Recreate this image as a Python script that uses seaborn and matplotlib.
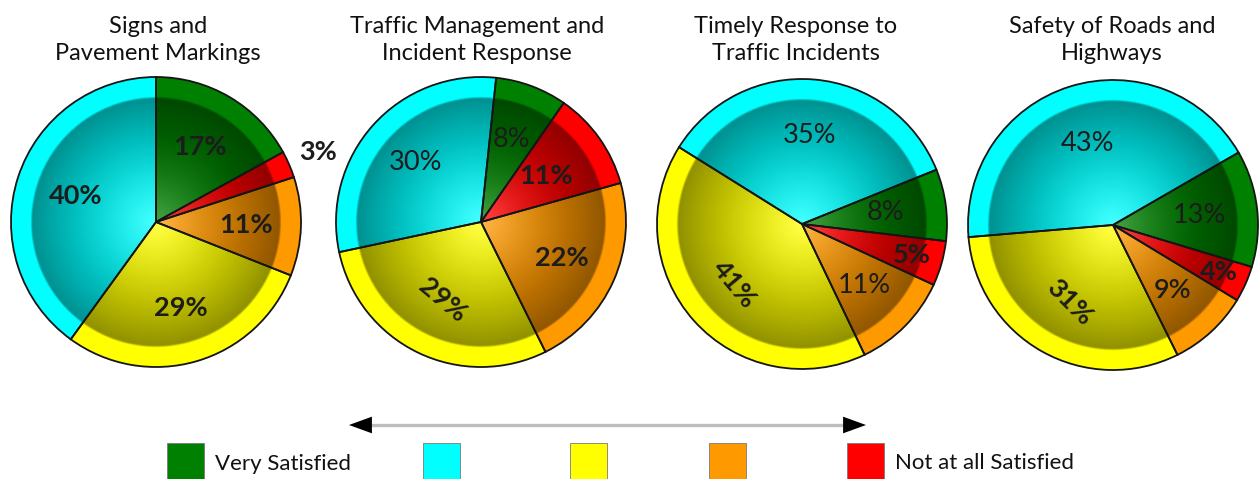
import numpy as np
import matplotlib
matplotlib.use("Agg")
import matplotlib.pyplot as plt
from matplotlib.patches import Circle, Rectangle
import seaborn as sns

# ---- data -------------------------------------------------------------
titles = [
    "Signs and\nPavement Markings",
    "Traffic Management and\nIncident Response",
    "Timely Response to\nTraffic Incidents",
    "Safety of Roads and\nHighways",
]
# order of slices: Very Satisfied, Not at all Satisfied, (4th), (3rd), (2nd)
categories = ["Very Satisfied", "Not at all Satisfied", "Somewhat Dissatisfied",
              "Neutral", "Satisfied"]
signs_markings = [17, 3, 11, 29, 40]
traffic_mgmt = [8, 11, 22, 29, 30]
timely_response = [8, 5, 11, 41, 35]
road_safety = [13, 4, 9, 31, 43]
series = [signs_markings, traffic_mgmt, timely_response, road_safety]

legend_order = ["Very Satisfied", "Satisfied", "Neutral",
                "Somewhat Dissatisfied", "Not at all Satisfied"]
legend_labels = {"Very Satisfied": "Very Satisfied",
                 "Not at all Satisfied": "Not at all Satisfied"}

# ---- style ------------------------------------------------------------
sns.set_theme(style="white")
plt.rcParams["font.family"] = ["Lato", "DejaVu Sans"]

palette = {
    "Very Satisfied": "#008000",
    "Satisfied": "#00ffff",
    "Neutral": "#ffff00",
    "Somewhat Dissatisfied": "#ff9900",
    "Not at all Satisfied": "#ff0000",
}
colors = [palette[c] for c in categories]

W, H = 1259, 479
centers = [(156, 257), (481, 257), (802, 255), (1113, 254)]
title_x = [158, 477, 796, 1112]
start_angles = [90, 84, 22, 30]
R = 145
ring_frac = 0.86

# per-slice label placement (radius fraction, rotation, weight)
label_r = [
    [0.60, 1.22, 0.62, 0.62, 0.58],
    [0.61, 0.55, 0.61, 0.60, 0.61],
    [0.58, 0.79, 0.60, 0.63, 0.61],
    [0.60, 0.80, 0.61, 0.61, 0.59],
]
label_rot = [
    [0, 0, 0, 0, 0],
    [0, 0, 0, -40, 0],
    [0, 0, 0, -50, 0],
    [0, 0, 0, -45, 0],
]
label_w = [
    ["bold"] * 5,
    ["normal", "bold", "bold", "bold", "normal"],
    ["normal", "bold", "normal", "bold", "normal"],
    ["normal", "bold", "semibold", "bold", "normal"],
]

fig = plt.figure(figsize=(W / 100, H / 100), dpi=100)
ax = fig.add_axes([0, 0, 1, 1])


def shading_image(cx, cy, R, rin, n=500):
    xs = np.linspace(cx - R, cx + R, n)
    ys = np.linspace(cy - R, cy + R, n)
    X, Y = np.meshgrid(xs, ys)
    r = np.hypot(X - cx, Y - cy)
    t = np.clip(r / rin, 0, 1)
    aw = 0.28 * np.clip(1 - t / 0.75, 0, 1) ** 1.5
    ab = 0.44 * t ** 1.3
    inside = np.clip((rin - r) / 2.0 + 0.5, 0, 1)
    aw *= inside
    ab *= inside
    a = 1 - (1 - aw) * (1 - ab)
    c = np.where(a > 0, aw * (1 - ab) / np.maximum(a, 1e-9), 0)
    img = np.zeros((n, n, 4))
    img[..., 0] = c
    img[..., 1] = c
    img[..., 2] = c
    img[..., 3] = a
    return img


for i, vals in enumerate(series):
    cx, cy = centers[i]
    ax.pie(vals, colors=colors, startangle=start_angles[i], counterclock=False,
           center=(cx, cy), radius=R, wedgeprops=dict(edgecolor="none", linewidth=0))
    img = shading_image(cx, cy, R, R * ring_frac)
    im = ax.imshow(img, extent=(cx - R, cx + R, cy - R, cy + R), origin="lower",
                   zorder=2, interpolation="bilinear")
    im.set_clip_path(Circle((cx, cy), R, transform=ax.transData))
    wedges, _ = ax.pie(vals, startangle=start_angles[i], counterclock=False,
                       center=(cx, cy), radius=R,
                       wedgeprops=dict(fill=False, edgecolor="#151515", linewidth=1.3))
    for w in wedges:
        w.set_zorder(3)

    # percentage labels at each wedge's mid angle
    total = float(sum(vals))
    ang = start_angles[i]
    for j, v in enumerate(vals):
        span = 360.0 * v / total
        mid = np.deg2rad(ang - span / 2)
        ang -= span
        rr = label_r[i][j] * R
        ax.text(cx + rr * np.cos(mid), cy + rr * np.sin(mid), f"{v}%",
                ha="center", va="center", fontsize=19.5, color="#1c1c1c",
                fontweight=label_w[i][j], rotation=label_rot[i][j], zorder=4,
                rotation_mode="anchor")

    ax.text(title_x[i], H - 40, titles[i], ha="center", va="center",
            fontsize=17, color="#111111", linespacing=1.3)

# scale arrow
arrow_y = H - 425
ax.plot([360, 855], [arrow_y, arrow_y], color="#bdbdbd", lw=2.4, zorder=1,
        solid_capstyle="butt")
for tip, tail in [(349, 372), (866, 843)]:
    ax.annotate("", xy=(tip, arrow_y), xytext=(tail, arrow_y),
                arrowprops=dict(arrowstyle="-|>,head_length=0.55,head_width=0.2",
                                mutation_scale=30, color="black", lw=0,
                                shrinkA=0, shrinkB=0))

# legend swatches
swatch_x = [167, 423, 570, 709, 847]
sw = 37
for name, x0 in zip(legend_order, swatch_x):
    ax.add_patch(Rectangle((x0, H - 443 - sw), sw, sw, facecolor=palette[name],
                           edgecolor="#7a7a7a", linewidth=0.6))
ax.text(215, H - 464, legend_labels["Very Satisfied"], ha="left", va="center",
        fontsize=16, color="#111111")
ax.text(895, H - 463, legend_labels["Not at all Satisfied"], ha="left",
        va="center", fontsize=16, color="#111111")

ax.set_xlim(0, W)
ax.set_ylim(0, H)
ax.set_aspect("equal")
ax.axis("off")
fig.savefig("out.png", dpi=100)
